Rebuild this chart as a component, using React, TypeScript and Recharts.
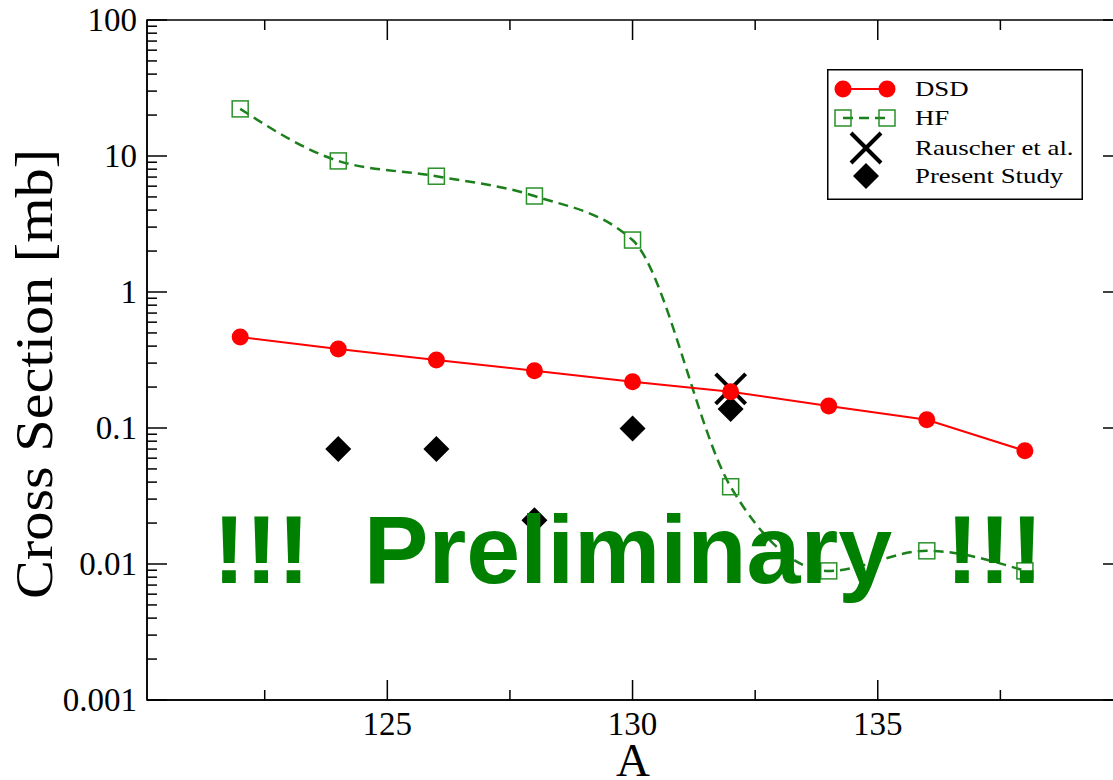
import React from 'react';
import { ComposedChart, Line, Scatter, XAxis, YAxis, ReferenceArea, Legend, Label } from 'recharts';

// mass number A and cross sections [mb]
const MASS = [122, 124, 126, 128, 130, 132, 134, 136, 138];
const DSD = [0.467, 0.381, 0.316, 0.264, 0.219, 0.185, 0.145, 0.115, 0.068];
const HF = [22.2, 9.2, 7.1, 5.08, 2.41, 0.037, 0.0089, 0.0125, 0.0089];
const RAUSCHER_MASS = [132];
const RAUSCHER = [0.194];
const PRESENT_MASS = [124, 126, 128, 130, 132];
const PRESENT = [0.07, 0.07, 0.021, 0.099, 0.138];

const SERIES_NAMES = ['DSD', 'HF', 'Rauscher et al.', 'Present Study'];

const X_MAJOR = [125, 130, 135];
const X_MINOR = [122.5, 127.5, 132.5, 137.5];
const Y_MAJOR = [0.001, 0.01, 0.1, 1, 10, 100];
const Y_MINOR_STEPS = [2, 3, 4, 5, 6, 7, 8, 9];

const WIDTH = 1140;
const HEIGHT = 780;
const LEFT = 147;
const RIGHT = 1123;
const TOP = 20;
const BOTTOM = 700;

const SERIF = '"Liberation Serif", "Times New Roman", serif';
const RED = '#ff0000';
const GREEN = '#1b7f1b';
const GREEN_SQ = '#2a902a';

const toRows = (xs: number[], ys: number[]) => xs.map((a, i) => ({ A: a, v: ys[i] }));
const dsdData = toRows(MASS, DSD);
const hfData = toRows(MASS, HF);
const rauscherData = toRows(RAUSCHER_MASS, RAUSCHER);
const presentData = toRows(PRESENT_MASS, PRESENT);

const yTicks = [
  ...Y_MAJOR,
  ...Y_MAJOR.slice(0, -1).flatMap((d) => Y_MINOR_STEPS.map((s) => +(d * s).toPrecision(3))),
].sort((a, b) => a - b);
const xTicks = [...X_MAJOR, ...X_MINOR].sort((a, b) => a - b);

function XTick(props: any) {
  const { x, payload } = props;
  const major = X_MAJOR.includes(payload.value);
  const len = major ? 20 : 10;
  return (
    <g>
      <line x1={x} x2={x} y1={BOTTOM} y2={BOTTOM - len} stroke="#000" strokeWidth={1.5} />
      <line x1={x} x2={x} y1={TOP} y2={TOP + len} stroke="#000" strokeWidth={1.5} />
      {major && (
        <text x={x} y={BOTTOM + 35} textAnchor="middle" fontFamily={SERIF} fontSize={33} fill="#000">
          {payload.value}
        </text>
      )}
    </g>
  );
}

function YTick(props: any) {
  const { y, payload } = props;
  const major = Y_MAJOR.includes(payload.value);
  const len = major ? 20 : 10;
  return (
    <g>
      <line x1={LEFT} x2={LEFT + len} y1={y} y2={y} stroke="#000" strokeWidth={1.5} />
      <line x1={RIGHT - len} x2={RIGHT} y1={y} y2={y} stroke="#000" strokeWidth={1.5} />
      {major && (
        <text x={LEFT - 10} y={y + 11} textAnchor="end" fontFamily={SERIF} fontSize={33} fill="#000">
          {String(payload.value)}
        </text>
      )}
    </g>
  );
}

const RedDot = (p: any) => <circle key={`d-${p.index}`} cx={p.cx} cy={p.cy} r={8.5} fill={RED} />;
const GreenSquare = (p: any) => (
  <rect key={`s-${p.index}`} x={p.cx - 8} y={p.cy - 8} width={16} height={16} fill="none" stroke={GREEN_SQ} strokeWidth={1.5} />
);
const Cross = (p: any) => (
  <g>
    <line x1={p.cx - 15} y1={p.cy - 15} x2={p.cx + 15} y2={p.cy + 15} stroke="#000" strokeWidth={4} />
    <line x1={p.cx - 15} y1={p.cy + 15} x2={p.cx + 15} y2={p.cy - 15} stroke="#000" strokeWidth={4} />
  </g>
);
const Diamond = (p: any) => (
  <path d={`M${p.cx},${p.cy - 13}L${p.cx + 13},${p.cy}L${p.cx},${p.cy + 13}L${p.cx - 13},${p.cy}Z`} fill="#000" />
);

function LegendBox() {
  const rows = [20, 49, 79, 107];
  return (
    <svg width={256} height={131} style={{ display: 'block' }}>
      <rect x={0.75} y={0.75} width={254.5} height={129.5} fill="#fff" stroke="#000" strokeWidth={1.5} />
      <line x1={16} x2={60} y1={rows[0]} y2={rows[0]} stroke={RED} strokeWidth={2} />
      <circle cx={16} cy={rows[0]} r={8.5} fill={RED} />
      <circle cx={60} cy={rows[0]} r={8.5} fill={RED} />
      <line x1={16} x2={60} y1={rows[1]} y2={rows[1]} stroke={GREEN} strokeWidth={2.5} strokeDasharray="10 6" />
      <rect x={8} y={rows[1] - 8} width={16} height={16} fill="none" stroke={GREEN_SQ} strokeWidth={1.5} />
      <rect x={52} y={rows[1] - 8} width={16} height={16} fill="none" stroke={GREEN_SQ} strokeWidth={1.5} />
      {Cross({ cx: 39, cy: rows[2] })}
      {Diamond({ cx: 39, cy: rows[3] })}
      {SERIES_NAMES.map((name, i) => (
        <text
          key={name}
          transform={`translate(88 ${rows[i] + 7}) scale(1.22 1)`}
          fontFamily={SERIF}
          fontSize={22}
          fill="#000"
        >
          {name}
        </text>
      ))}
    </svg>
  );
}

export default function App() {
  return (
    <div style={{ position: 'absolute', left: 0, top: 0, width: 1113, height: 780, overflow: 'hidden', background: '#fff' }}>
      <ComposedChart width={WIDTH} height={HEIGHT} margin={{ top: TOP, right: WIDTH - RIGHT, bottom: 0, left: 0 }}>
        <XAxis
          type="number"
          dataKey="A"
          domain={[120.1, 140]}
          allowDataOverflow
          ticks={xTicks}
          interval={0}
          tick={XTick}
          tickLine={false}
          height={HEIGHT - BOTTOM}
          axisLine={{ stroke: '#000', strokeWidth: 1.5 }}
        >
          <Label
            content={() => (
              <text x={(LEFT + RIGHT) / 2 - 2} y={776} textAnchor="middle" fontFamily={SERIF} fontSize={47} fill="#000">
                A
              </text>
            )}
          />
        </XAxis>
        <YAxis
          type="number"
          dataKey="v"
          scale="log"
          domain={[0.001, 100]}
          allowDataOverflow
          ticks={yTicks}
          interval={0}
          tick={YTick}
          tickLine={false}
          width={LEFT}
          axisLine={{ stroke: '#000', strokeWidth: 1.5 }}
        >
          <Label
            content={() => (
              <text
                x={0}
                y={0}
                transform="translate(52 374) rotate(-90) scale(1.1 1)"
                textAnchor="middle"
                fontFamily={SERIF}
                fontSize={53}
                fill="#000"
              >
                Cross Section [mb]
              </text>
            )}
          />
        </YAxis>
        <ReferenceArea x1={120.1} x2={140} y1={0.001} y2={100} fill="none" stroke="#000" strokeWidth={1.5} />
        <Line
          data={hfData}
          dataKey="v"
          type="monotone"
          stroke={GREEN}
          strokeWidth={2.5}
          strokeDasharray="10 6"
          dot={GreenSquare}
          activeDot={false}
          isAnimationActive={false}
        />
        <Line
          data={dsdData}
          dataKey="v"
          type="linear"
          stroke={RED}
          strokeWidth={2}
          dot={RedDot}
          activeDot={false}
          isAnimationActive={false}
        />
        <Scatter data={rauscherData} dataKey="v" shape={Cross} isAnimationActive={false} />
        <Scatter data={presentData} dataKey="v" shape={Diamond} isAnimationActive={false} />
        <Legend
          layout="vertical"
          align="center"
          verticalAlign="middle"
          content={() => <LegendBox />}
          wrapperStyle={{ position: 'absolute', left: 827, top: 69, width: 256, height: 131 }}
        />
      </ComposedChart>
      <svg
        width={1113}
        height={780}
        style={{ position: 'absolute', left: 0, top: 0, pointerEvents: 'none' }}
      >
        <text
          x={213}
          y={583}
          fontFamily='"Liberation Sans", Arial, sans-serif'
          fontWeight="bold"
          fontSize={97}
          fill="#008000"
          style={{ whiteSpace: 'pre' }}
        >
          {'!!!  Preliminary  !!!'}
        </text>
      </svg>
    </div>
  );
}
